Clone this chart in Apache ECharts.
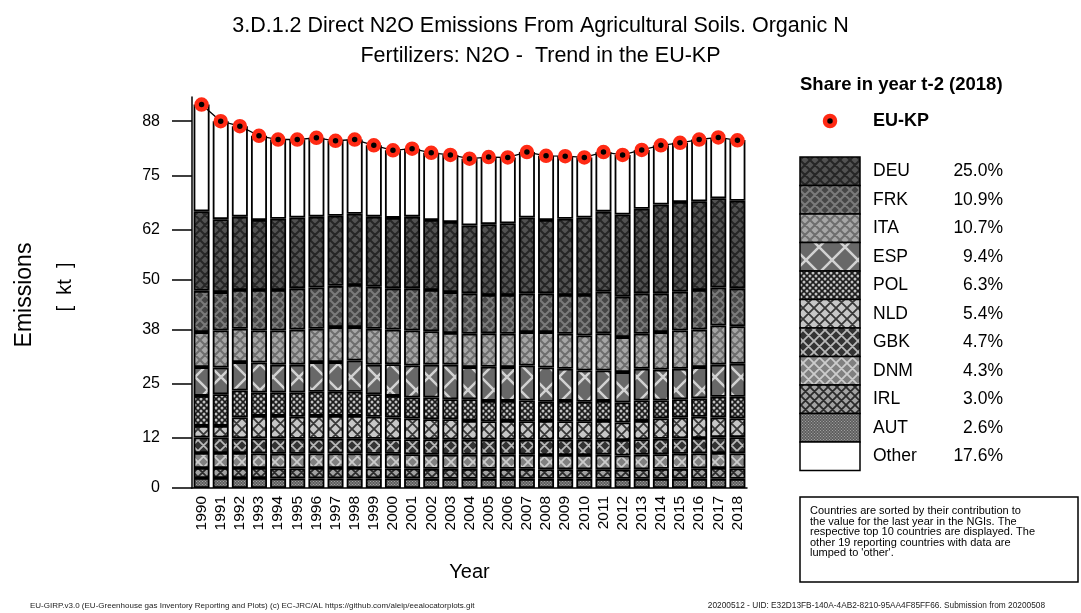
<!DOCTYPE html>
<html>
<head>
<meta charset="utf-8">
<script src="https://cdn.jsdelivr.net/npm/echarts@6/dist/echarts.min.js"></script>
<style>
html, body { margin: 0; padding: 0; background: #fff; }
#echarts { width: 1081px; height: 613px; }
</style>
</head>
<body>
<div id="echarts"></div>
<script>
var years = ['1990','1991','1992','1993','1994','1995','1996','1997','1998','1999',
    '2000','2001','2002','2003','2004','2005','2006','2007','2008','2009',
    '2010','2011','2012','2013','2014','2015','2016','2017','2018']

// kt N2O
var euKP = [92.0,88.0,86.8,84.5,83.6,83.6,84.0,83.3,83.6,82.2,81.0,81.4,80.4,79.9,79.0,79.4,79.3,80.6,79.7,79.6,79.3,80.6,79.9,81.1,82.2,82.8,83.6,84.1,83.4]
var deu = [19.1,17.5,17.6,16.8,17.1,17.0,17.0,16.8,17.1,16.8,16.9,17.2,16.8,16.8,16.3,17.0,17.2,18.2,17.6,18.3,18.6,19.2,19.7,20.3,21.3,21.5,21.3,21.4,21.0]
var frk = [9.9,9.2,9.3,9.7,9.7,9.9,9.9,9.9,10.1,10.1,9.9,10.1,9.9,9.8,9.7,9.2,9.3,9.3,9.3,9.3,9.7,10.0,9.7,9.7,9.3,9.3,9.5,9.1,9.1]
var ita = [8.4,8.9,8.0,7.7,8.2,8.4,8.0,8.4,8.0,8.6,8.3,8.4,8.0,7.6,8.0,8.0,8.0,8.0,8.5,8.4,8.4,8.9,8.4,8.4,9.0,9.2,9.0,9.4,9.0]
var esp = [6.9,6.4,6.8,7.2,6.7,6.7,7.1,7.1,7.5,7.1,7.6,7.7,7.9,8.3,7.7,8.2,8.1,8.4,8.2,7.7,7.5,7.3,7.3,7.6,7.4,7.3,7.5,7.7,7.9]
var pol = [7.2,7.6,6.5,5.6,5.6,5.8,5.8,5.8,5.8,5.4,5.2,5.0,5.2,4.8,5.2,4.9,4.8,5.0,4.6,4.9,4.7,4.8,4.8,4.9,4.3,4.4,4.4,5.0,5.2]
var nld = [2.8,2.8,5.0,5.4,5.4,5.3,5.5,5.5,5.5,5.3,5.2,5.0,4.8,4.9,4.5,4.4,4.5,4.4,4.5,4.4,4.4,4.5,4.2,4.4,4.9,5.0,5.1,4.7,4.5]
var gbk = [3.7,3.7,3.5,3.6,3.7,3.6,3.5,3.5,3.5,3.6,3.5,3.6,3.7,3.6,3.6,3.6,3.6,3.6,3.7,3.7,3.7,3.6,3.7,3.7,3.7,3.7,3.7,3.8,3.9]
var dnm = [3.6,3.6,3.6,3.5,3.5,3.5,3.5,3.5,3.5,3.5,3.5,3.4,3.4,3.4,3.4,3.4,3.4,3.4,3.4,3.4,3.4,3.5,3.4,3.5,3.5,3.6,3.6,3.6,3.6]
var irl = [2.4,2.4,2.4,2.4,2.4,2.4,2.5,2.5,2.5,2.4,2.4,2.4,2.4,2.4,2.4,2.4,2.4,2.4,2.3,2.3,2.3,2.3,2.2,2.3,2.4,2.4,2.5,2.6,2.5]
var aut = [2.4,2.4,2.4,2.4,2.3,2.3,2.3,2.3,2.3,2.3,2.3,2.3,2.2,2.2,2.2,2.2,2.2,2.2,2.2,2.2,2.2,2.2,2.2,2.2,2.2,2.2,2.2,2.2,2.2]
var other = [25.6,23.5,21.7,20.2,19.0,18.7,18.9,18.0,17.8,17.1,16.2,16.3,16.1,16.1,16.0,16.1,15.8,15.7,15.4,15.0,14.4,14.3,14.3,14.1,14.2,14.2,14.8,14.4,14.6]

// legend order (top to bottom) and 2018 shares
var countries = ['DEU','FRK','ITA','ESP','POL','NLD','GBK','DNM','IRL','AUT','Other']
var shares = ['25.0%','10.9%','10.7%','9.4%','6.3%','5.4%','4.7%','4.3%','3.0%','2.6%','17.6%']
// stacking order, bottom first
var stackOrder = ['AUT','IRL','DNM','GBK','NLD','POL','ESP','ITA','FRK','DEU','Other']

var yTickValues = [0, 12, 25, 38, 50, 62, 75, 88]
var yTickLabels = ['0', '12', '25', '38', '50', '62', '75', '88']

var FONT = '"Liberation Sans", Arial, sans-serif'

// canvas fills imitating the hatched R patterns
var hatch = function (bg, fg, size, lw) {
    var c = document.createElement('canvas')
    c.width = c.height = size
    var g = c.getContext('2d')
    g.fillStyle = bg
    g.fillRect(0, 0, size, size)
    g.strokeStyle = fg
    g.lineWidth = lw
    g.beginPath()
    for (var k = -1; k <= 1; k++) {
        g.moveTo(k * size, 0); g.lineTo(k * size + size, size)
        g.moveTo(k * size + size, 0); g.lineTo(k * size, size)
    }
    g.stroke()
    return {image: c, repeat: 'repeat'}
}

var dots = function (bg, fg, size, r) {
    var c = document.createElement('canvas')
    c.width = c.height = size
    var g = c.getContext('2d')
    g.fillStyle = bg
    g.fillRect(0, 0, size, size)
    g.fillStyle = fg
    var pts = [[0, 0], [size, 0], [0, size], [size, size], [size / 2, size / 2]]
    for (var i = 0; i < pts.length; i++) {
        g.beginPath()
        g.arc(pts[i][0], pts[i][1], r, 0, Math.PI * 2)
        g.fill()
    }
    return {image: c, repeat: 'repeat'}
}

var fills = {
    DEU: hatch('#525252', '#262626', 10, 2),
    FRK: hatch('#464646', '#7a7a7a', 10, 2),
    ITA: hatch('#a6a6a6', '#6e6e6e', 10, 2),
    ESP: hatch('#686868', '#d2d2d2', 26, 2.5),
    POL: dots('#1c1c1c', '#c0c0c0', 6, 1.5),
    NLD: hatch('#c6c6c6', '#383838', 11, 1.8),
    GBK: hatch('#333333', '#b8b8b8', 11, 1.8),
    DNM: hatch('#808080', '#cccccc', 11, 1.8),
    IRL: hatch('#a2a2a2', '#2a2a2a', 9, 1.8),
    AUT: dots('#505050', '#a0a0a0', 3, 0.8),
    Other: '#ffffff'
}

var values = {
    DEU: deu, FRK: frk, ITA: ita, ESP: esp, POL: pol, NLD: nld,
    GBK: gbk, DNM: dnm, IRL: irl, AUT: aut, Other: other
}

var chart = echarts.init(document.getElementById('echarts'), null, {renderer: 'canvas'})

var series = []
for (var i = 0; i < stackOrder.length; i++) {
    var name = stackOrder[i]
    series.push({
        name: name,
        type: 'bar',
        stack: 'total',
        barWidth: 16,
        data: values[name],
        itemStyle: {
            color: fills[name],
            borderColor: '#000',
            borderWidth: 1.8
        }
    })
}
series.push({
    name: 'EU-KP',
    type: 'line',
    data: euKP,
    z: 10,
    symbol: 'circle',
    symbolSize: 10,
    lineStyle: {color: '#000', width: 1.3},
    itemStyle: {
        color: '#000',
        borderColor: '#ff2a14',
        borderWidth: 4.5
    }
})

// legend + texts drawn by hand
var graphics = [
    {type: 'text', x: 800, y: 85, style: {text: 'Share in year t-2 (2018)', font: 'bold 18.5px ' + FONT, fill: '#000', textVerticalAlign: 'middle', verticalAlign: 'middle'}},
    {type: 'circle', shape: {cx: 830, cy: 121, r: 5}, style: {fill: '#000', stroke: '#ff2a14', lineWidth: 4.5}},
    {type: 'text', x: 873, y: 121, style: {text: 'EU-KP', font: 'bold 18px ' + FONT, fill: '#000', textVerticalAlign: 'middle', verticalAlign: 'middle'}}
]
var rowH = 28.5
for (var j = 0; j < countries.length; j++) {
    var yTop = 157 + j * rowH
    graphics.push({type: 'rect', shape: {x: 800, y: yTop, width: 60, height: rowH},
        style: {fill: fills[countries[j]], stroke: '#000', lineWidth: 1.5}})
    graphics.push({type: 'text', x: 873, y: yTop + rowH / 2,
        style: {text: countries[j], font: '17.5px ' + FONT, fill: '#000', textVerticalAlign: 'middle', verticalAlign: 'middle'}})
    graphics.push({type: 'text', x: 1003, y: yTop + rowH / 2,
        style: {text: shares[j], font: '17.5px ' + FONT, fill: '#000', textAlign: 'right', align: 'right', textVerticalAlign: 'middle', verticalAlign: 'middle'}})
}
graphics.push(
    {type: 'rect', shape: {x: 800, y: 497, width: 278, height: 85}, style: {fill: 'none', stroke: '#000', lineWidth: 1.5}},
    {type: 'text', x: 810, y: 506, style: {
        text: "Countries are sorted by their contribution to\nthe value for the last year in the NGIs. The\nrespective top 10 countries are displayed. The\nother 19 reporting countries with data are\nlumped to 'other'.",
        font: '11px ' + FONT, lineHeight: 10.5, fill: '#000'}},
    {type: 'text', x: 25, y: 295, rotation: Math.PI / 2, style: {text: 'Emissions', font: '23px ' + FONT, fill: '#000', textAlign: 'center', align: 'center', textVerticalAlign: 'middle', verticalAlign: 'middle'}},
    {type: 'text', x: 65, y: 287, rotation: Math.PI / 2, style: {text: '[  kt  ]', font: '20px ' + FONT, fill: '#000', textAlign: 'center', align: 'center', textVerticalAlign: 'middle', verticalAlign: 'middle'}},
    {type: 'text', x: 30, y: 606, style: {text: 'EU-GIRP.v3.0 (EU-Greenhouse gas Inventory Reporting and Plots) (c) EC-JRC/AL https://github.com/aleip/eealocatorplots.git', font: '8px ' + FONT, fill: '#222', textVerticalAlign: 'middle', verticalAlign: 'middle'}},
    {type: 'text', x: 1045, y: 606, style: {text: '20200512 - UID: E32D13FB-140A-4AB2-8210-95AA4F85FF66. Submission from 20200508', font: '8.3px ' + FONT, fill: '#222', textAlign: 'right', align: 'right', textVerticalAlign: 'middle', verticalAlign: 'middle'}}
)

var option = {
    animation: false,
    backgroundColor: '#fff',
    title: {
        text: '3.D.1.2 Direct N2O Emissions From Agricultural Soils. Organic N\nFertilizers: N2O -  Trend in the EU-KP',
        left: 'center',
        top: 6,
        textStyle: {fontFamily: FONT, fontSize: 21.5, fontWeight: 'normal', color: '#000', lineHeight: 30}
    },
    grid: {left: 192, right: 334, top: 97, bottom: 125},
    xAxis: {
        type: 'category',
        data: years,
        name: 'Year',
        nameLocation: 'middle',
        nameGap: 74,
        nameTextStyle: {fontFamily: FONT, fontSize: 20, color: '#000'},
        axisLine: {lineStyle: {color: '#000', width: 1.5}},
        axisTick: {alignWithLabel: true, length: 4, interval: 0, lineStyle: {color: '#000'}},
        axisLabel: {rotate: 90, interval: 0, fontFamily: FONT, fontSize: 15.5, color: '#000', margin: 8}
    },
    yAxis: {
        type: 'value',
        min: 0,
        max: 93.8,
        splitLine: {show: false},
        axisLine: {show: true, lineStyle: {color: '#000', width: 1.5}},
        axisTick: {show: true, length: 20, customValues: yTickValues, lineStyle: {color: '#000', width: 1.5}},
        axisLabel: {
            customValues: yTickValues,
            fontFamily: FONT, fontSize: 16, color: '#000', margin: 32,
            formatter: function (v) {
                var k = yTickValues.indexOf(v)
                return k >= 0 ? yTickLabels[k] : ''
            }
        }
    },
    series: series,
    graphic: graphics
}

chart.setOption(option)
</script>
</body>
</html>
